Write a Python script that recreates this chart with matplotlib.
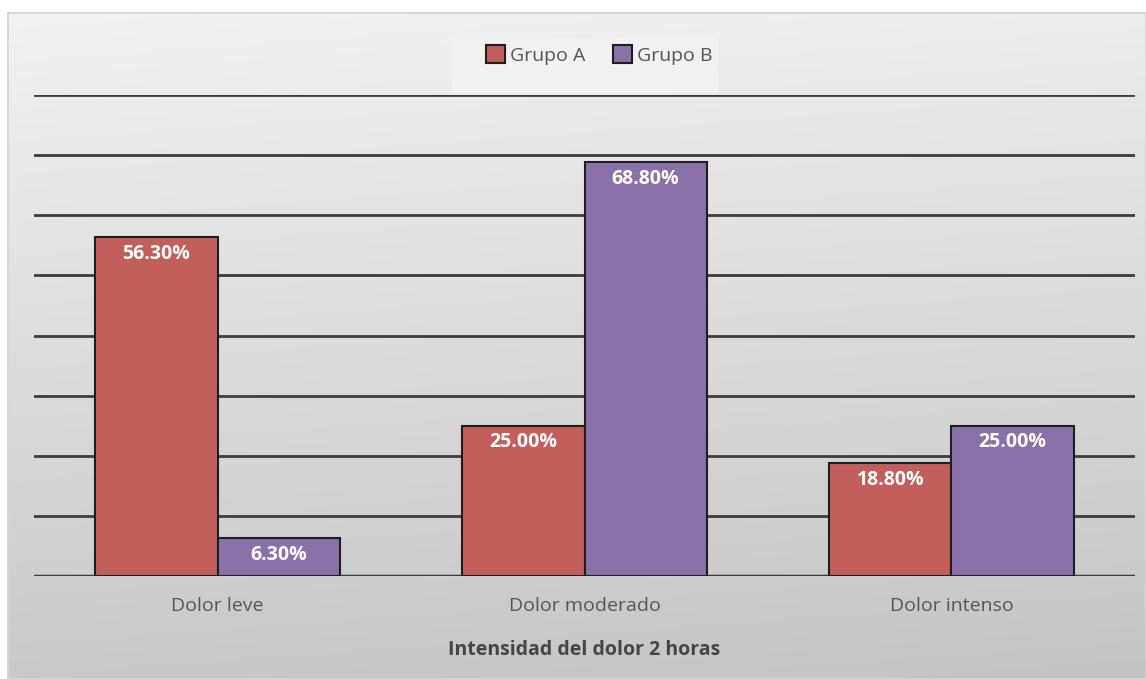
import numpy as np
import matplotlib.pyplot as plt
from matplotlib.patches import Rectangle

plt.rcParams['font.family'] = ['Open Sans', 'DejaVu Sans']

# data
categorias = ["Dolor leve", "Dolor moderado", "Dolor intenso"]
grupo_a = [56.3, 25.0, 18.8]
grupo_b = [6.3, 68.8, 25.0]
series = ["Grupo A", "Grupo B"]

col_a = "#c25f5a"
col_b = "#8b71a9"

fig = plt.figure(figsize=(11.46, 6.79), dpi=100)
fig.patch.set_facecolor("white")

# gray gradient panel behind the chart
bg = fig.add_axes([7 / 1146, 0, 1 - 7 / 1146, 1 - 12 / 679], zorder=0)
yy, xx = np.mgrid[0:1:200j, 0:1:200j]
shade = 0.945 - 0.16 * yy - 0.02 * xx
bg.imshow(shade, cmap="gray", vmin=0, vmax=1, aspect="auto",
          extent=[0, 1, 1, 0], interpolation="bilinear")
bg.set_xlim(0, 1)
bg.set_ylim(1, 0)
bg.axis("off")
bg.add_patch(Rectangle((0, 0), 1, 1, fill=False, ec="#d6d6d6", lw=2,
                       transform=bg.transAxes))

ax = fig.add_axes([34 / 1146, 1 - 576 / 679, 1101 / 1146, 481 / 679], zorder=1)
ax.patch.set_alpha(0)

x = np.arange(len(categorias))
w = 1 / 3
ba = ax.bar(x - w / 2, grupo_a, w, color=col_a, edgecolor="#1e1e1e", lw=1.5,
            label=series[0], zorder=3)
bb = ax.bar(x + w / 2, grupo_b, w, color=col_b, edgecolor="#1e1e1e", lw=1.5,
            label=series[1], zorder=3)

for bars, vals in ((ba, grupo_a), (bb, grupo_b)):
    for r, v in zip(bars, vals):
        ax.annotate(f"{v:.2f}%", (r.get_x() + r.get_width() / 2, v),
                    xytext=(0, -12), textcoords="offset points",
                    ha="center", va="center", color="white",
                    fontsize=14, fontweight="bold", zorder=4)

ax.set_xlim(-0.5, 2.5)
ax.set_ylim(0, 80)
ax.set_yticks(np.arange(0, 81, 10))
ax.yaxis.grid(True, color="#3c3c3c", lw=2, zorder=1)
ax.set_axisbelow(False)
ax.tick_params(axis="y", left=False, labelleft=False)
ax.tick_params(axis="x", length=0, pad=15, labelsize=14, labelcolor="#555555")
ax.set_xticks(x)
ax.set_xticklabels(categorias)
for s in ax.spines.values():
    s.set_visible(False)
ax.axhline(0, color="#333333", lw=2.5, zorder=2)
ax.set_xlabel("Intensidad del dolor 2 horas", fontsize=14, fontweight="bold",
              color="#454545", labelpad=18)

# legend on a faint light box
fig.patches.append(Rectangle((452 / 1146, 1 - 93 / 679), 266 / 1146, 55 / 679,
                             transform=fig.transFigure, fc="#f1f1f1", ec="none",
                             zorder=0.5))
leg = ax.legend(loc="center", bbox_to_anchor=(599 / 1146, 1 - 55 / 679),
                bbox_transform=fig.transFigure, ncol=2, frameon=False,
                fontsize=14, handlelength=1.0, handleheight=1.0,
                handletextpad=0.25, columnspacing=1.4)
for t in leg.get_texts():
    t.set_color("#555555")

fig.savefig("out.png", dpi=100)
